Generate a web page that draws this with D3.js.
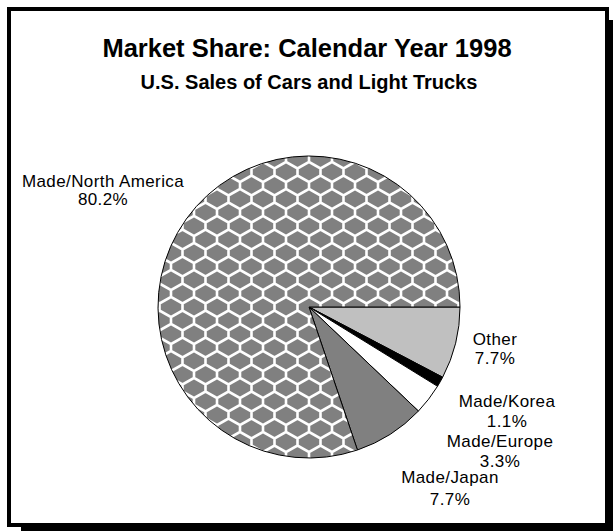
<!DOCTYPE html>
<html>
<head>
<meta charset="utf-8">
<script src="https://cdn.jsdelivr.net/npm/d3@7"></script>
<style>
  body { margin: 0; background: #fff; }
  text { font-family: "Liberation Sans", Arial, sans-serif; fill: #000; }
</style>
</head>
<body>
<div id="chart"></div>
<script>
// Data
var regions = ['Other', 'Made/Korea', 'Made/Europe', 'Made/Japan', 'Made/North America'];
var shares = [7.7, 1.1, 3.3, 7.7, 80.2];
var fills = ['#c0c0c0', '#000000', '#ffffff', '#808080', 'url(#lattice)'];

// label offsets from the pie centre (name line baseline)
var labelOffsets = [[186, 38], [198, 100], [191, 140], [141, 176], [-206, -120]];
var labelGaps = [19, 20, 20, 22, 18];

// Size variables
var width = 613;
var height = 531;
var cx = 309;
var cy = 307;
var radius = 151;

var svg = d3.select('#chart')
    .append('svg')
    .attr('width', width)
    .attr('height', height);

// chain-link pattern for North America
var pattern = svg.append('defs')
    .append('pattern')
    .attr('id', 'lattice')
    .attr('patternUnits', 'userSpaceOnUse')
    .attr('width', 23)
    .attr('height', 27);

pattern.append('rect')
    .attr('width', 23)
    .attr('height', 27)
    .attr('fill', '#808080');

pattern.append('path')
    .attr('d', 'M0,10L11.5,3.5L23,10 M23,17L11.5,23.5L0,17 M0,10L0,17 M23,10L23,17 M11.5,0L11.5,3.5 M11.5,23.5L11.5,27')
    .attr('fill', 'none')
    .attr('stroke', '#fff')
    .attr('stroke-width', 2.6);

// frame with drop shadow
svg.append('rect')
    .attr('x', 21)
    .attr('y', 20)
    .attr('width', 592)
    .attr('height', 511)
    .attr('fill', '#000');

svg.append('rect')
    .attr('x', 9)
    .attr('y', 9)
    .attr('width', 598)
    .attr('height', 516)
    .attr('fill', '#fff')
    .attr('stroke', '#000')
    .attr('stroke-width', 4);

// titles
svg.append('text')
    .attr('x', 307)
    .attr('y', 57)
    .attr('text-anchor', 'middle')
    .style('font-size', '25.5px')
    .style('font-weight', 'bold')
    .text('Market Share: Calendar Year 1998');

svg.append('text')
    .attr('x', 309)
    .attr('y', 89)
    .attr('text-anchor', 'middle')
    .style('font-size', '20px')
    .style('font-weight', 'bold')
    .text('U.S. Sales of Cars and Light Trucks');

// pie, starting at 3 o'clock and going clockwise
var pie = d3.pie()
    .sort(null)
    .value((d) => d)
    .startAngle(Math.PI / 2)
    .endAngle(Math.PI / 2 + 2 * Math.PI);

var arc = d3.arc()
    .innerRadius(0)
    .outerRadius(radius);

var g = svg.append('g')
    .attr('transform', `translate(${cx}, ${cy})`);

g.selectAll('path')
    .data(pie(shares))
    .enter()
    .append('path')
    .attr('d', arc)
    .attr('fill', (d, i) => fills[i])
    .attr('stroke', '#000')
    .attr('stroke-width', 1)
    .attr('stroke-linejoin', 'round');

// labels
var labels = g.selectAll('.label')
    .data(regions)
    .enter()
    .append('text')
    .attr('class', 'label')
    .attr('text-anchor', 'middle')
    .style('font-size', '17px')
    .style('letter-spacing', '0.4px');

labels.append('tspan')
    .attr('x', (d, i) => labelOffsets[i][0])
    .attr('y', (d, i) => labelOffsets[i][1])
    .text((d) => d);

labels.append('tspan')
    .attr('x', (d, i) => labelOffsets[i][0])
    .attr('y', (d, i) => labelOffsets[i][1] + labelGaps[i])
    .text((d, i) => shares[i].toFixed(1) + '%');
</script>
</body>
</html>
